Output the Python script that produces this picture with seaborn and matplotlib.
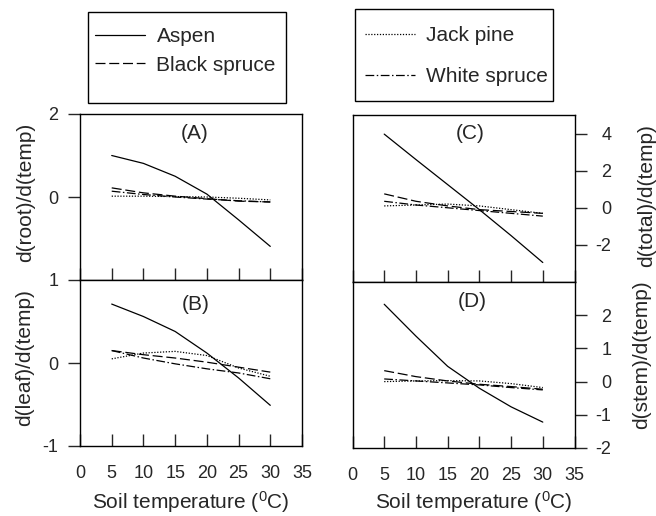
import numpy as np
import pandas as pd
import seaborn as sns
import matplotlib.pyplot as plt
from matplotlib.patches import Rectangle

# soil temperature (deg C)
temps = [5, 10, 15, 20, 25, 30]
species = ['Aspen', 'Black spruce', 'Jack pine', 'White spruce']

# (A) d(root)/d(temp)
root_aspen = [1.0, 0.81, 0.50, 0.07, -0.55, -1.19]
root_black = [0.22, 0.10, 0.02, -0.04, -0.10, -0.12]
root_jack = [0.02, 0.02, 0.01, 0.0, -0.03, -0.07]
root_white = [0.14, 0.06, 0.0, -0.05, -0.09, -0.12]

# (B) d(leaf)/d(temp)
leaf_aspen = [0.71, 0.56, 0.38, 0.12, -0.18, -0.51]
leaf_black = [0.15, 0.10, 0.06, 0.01, -0.05, -0.11]
leaf_jack = [0.05, 0.12, 0.14, 0.09, -0.06, -0.16]
leaf_white = [0.15, 0.06, -0.01, -0.07, -0.12, -0.19]

# (C) d(total)/d(temp)
total_aspen = [3.97, 2.6, 1.25, -0.1, -1.5, -2.95]
total_black = [0.75, 0.35, 0.1, -0.1, -0.2, -0.3]
total_jack = [0.1, 0.15, 0.2, 0.1, -0.1, -0.3]
total_white = [0.35, 0.15, 0.0, -0.15, -0.3, -0.45]

# (D) d(stem)/d(temp)
stem_aspen = [2.33, 1.37, 0.46, -0.2, -0.76, -1.22]
stem_black = [0.33, 0.15, 0.02, -0.08, -0.15, -0.23]
stem_jack = [0.0, 0.02, 0.03, 0.02, -0.06, -0.18]
stem_white = [0.08, 0.02, -0.04, -0.1, -0.18, -0.25]

xticks = [0, 5, 10, 15, 20, 25, 30, 35]


def long_df(a, b, j, w):
    vals = [a, b, j, w]
    return pd.DataFrame({
        'temp': temps * 4,
        'value': [v for s in vals for v in s],
        'species': [sp for sp in species for _ in temps],
    })


sns.set_style('ticks')
plt.rcParams['font.family'] = ['Liberation Sans', 'DejaVu Sans']
plt.rcParams['mathtext.default'] = 'regular'
plt.rcParams['axes.linewidth'] = 1.0
plt.rcParams['axes.unicode_minus'] = False

W, H = 656, 516
fig = plt.figure(figsize=(W / 100, H / 100), dpi=100)


def px_axes(left, top, right, bottom):
    return fig.add_axes([left / W, 1 - bottom / H, (right - left) / W, (bottom - top) / H])


axA = px_axes(80, 114, 302, 280)
axB = px_axes(80, 280, 302, 446)
axC = px_axes(352.5, 115, 574.5, 282)
axD = px_axes(352.5, 282, 574.5, 448)

dashes = {'Aspen': '', 'Black spruce': (8, 3), 'Jack pine': (1, 1.3), 'White spruce': (7, 2, 1.2, 2)}

panels = [
    (axA, long_df(root_aspen, root_black, root_jack, root_white), (-2, 2), [2, 0], 'd(root)/d(temp)', '(A)'),
    (axB, long_df(leaf_aspen, leaf_black, leaf_jack, leaf_white), (-1, 1), [1, 0, -1], 'd(leaf)/d(temp)', '(B)'),
    (axC, long_df(total_aspen, total_black, total_jack, total_white), (-4, 5), [4, 2, 0, -2], 'd(total)/d(temp)', '(C)'),
    (axD, long_df(stem_aspen, stem_black, stem_jack, stem_white), (-2, 3), [2, 1, 0, -1, -2], 'd(stem)/d(temp)', '(D)'),
]

title_pos = {'(A)': (0.518, 0.885), '(B)': (0.52, 0.85), '(C)': (0.53, 0.89), '(D)': (0.54, 0.88)}

for ax, df, ylim, yticks, ylab, tag in panels:
    sns.lineplot(data=df, x='temp', y='value', style='species', style_order=species,
                 dashes=dashes, color='k', lw=0.9, legend=False, ax=ax)
    ax.set_xlim(0, 35)
    ax.set_ylim(*ylim)
    ax.set_xticks(xticks)
    ax.set_yticks(yticks)
    ax.set_ylabel(ylab, fontsize=15)
    ax.set_xlabel('')
    for s in ax.spines.values():
        s.set_visible(True)
        s.set_color('k')
    ax.tick_params(axis='x', direction='in', length=8.6, width=1, labelsize=13, pad=13.5)
    ax.text(*title_pos[tag], tag, transform=ax.transAxes, ha='center', va='center', fontsize=15)

# left column
for ax in (axA, axB):
    ax.tick_params(axis='y', direction='out', length=8.6, width=1, labelsize=13, pad=7)
axA.yaxis.set_label_coords(-0.2, 0.527)
axB.yaxis.set_label_coords(-0.205, 0.53)

# right column
for ax in (axC, axD):
    ax.yaxis.tick_right()
    ax.yaxis.set_label_position('right')
    ax.tick_params(axis='y', direction='out', length=8.6, width=1, labelsize=13, pad=18)
    for lbl in ax.get_yticklabels():
        lbl.set_horizontalalignment('right')
axC.yaxis.set_label_coords(1.281, 0.515)
axD.yaxis.set_label_coords(1.259, 0.56)

for ax in (axA, axC):
    ax.tick_params(axis='x', labelbottom=False)

axB.set_xlabel('Soil temperature ($^0$C)', fontsize=15)
axD.set_xlabel('Soil temperature ($^0$C)', fontsize=15)
axB.xaxis.set_label_coords(0.5, -0.258)
axD.xaxis.set_label_coords(0.547, -0.25)

# legends: two boxes above the panels
lines = axA.get_lines()
leg_kw = dict(frameon=False, fontsize=15, borderpad=0, borderaxespad=0,
              handlelength=2.4, handletextpad=0.55, loc='center left')
leg1 = fig.legend(lines[:2], species[:2], bbox_to_anchor=(95 / W, 1 - 51 / H),
                  labelspacing=0.45, **leg_kw)
leg2 = fig.legend(lines[2:], species[2:], bbox_to_anchor=(365 / W, 1 - 56 / H),
                  labelspacing=1.05, **leg_kw)
for x0, y0, x1, y1 in [(88, 12, 286, 103), (355, 9, 553, 101)]:
    fig.add_artist(Rectangle((x0 / W, 1 - y1 / H), (x1 - x0) / W, (y1 - y0) / H,
                             transform=fig.transFigure, fill=False, ec='k', lw=1))

fig.savefig('out.png', dpi=100)
